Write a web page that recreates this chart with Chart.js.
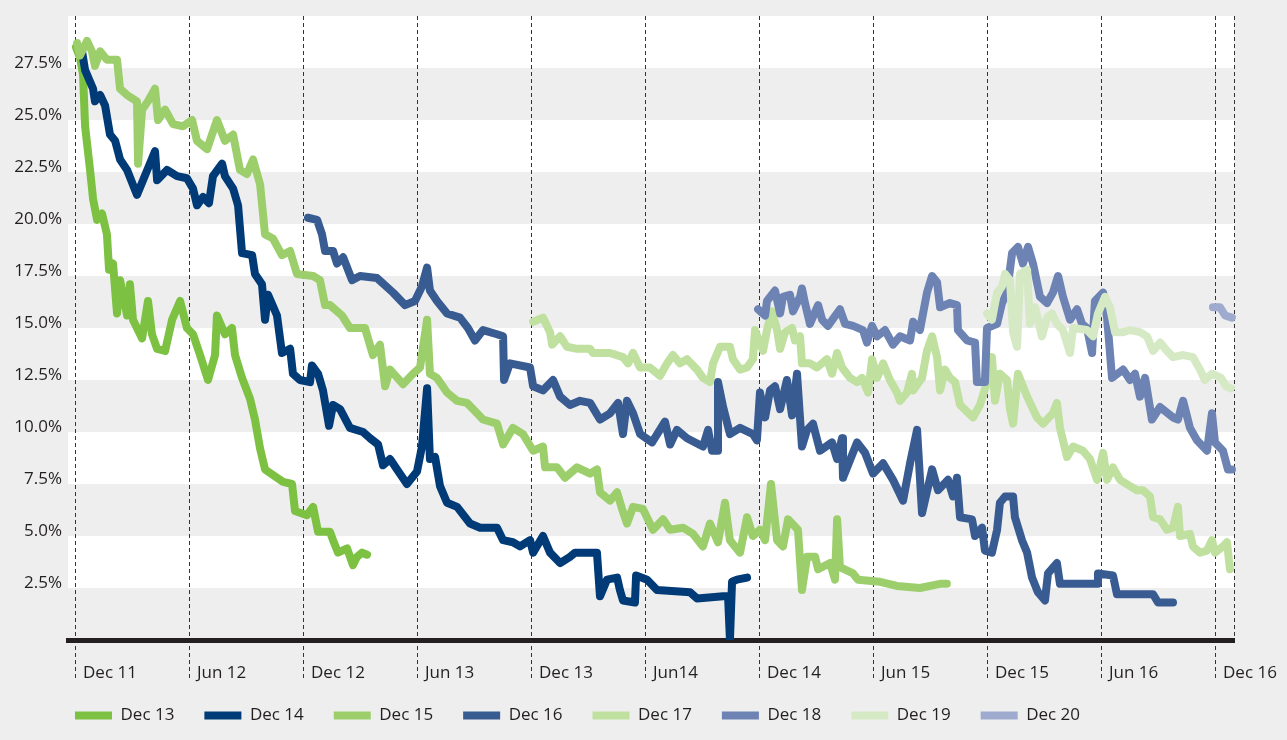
<!DOCTYPE html>
<html>
<head>
<meta charset="utf-8">
<script src="https://cdn.jsdelivr.net/npm/chart.js@4.4.1/dist/chart.umd.min.js"></script>
<style>
  html, body { margin: 0; padding: 0; background: #eeeeee; }
  #wrap { width: 1287px; height: 740px; }
</style>
</head>
<body>
<div id="wrap"><canvas id="curveChart" width="1287" height="740"></canvas></div>
<script>
// x = months since Dec 2011, y = yield in %
var dec13 = [[0.05,28.5],[0.26,28.0],[0.42,27.2],[0.53,24.7],[0.79,22.6],[0.95,21.2],[1.16,20.2],[1.42,20.5],[1.68,19.5],[1.79,17.8],[2.00,18.1],[2.21,15.7],[2.37,17.3],[2.74,15.6],[2.89,17.1],[3.05,15.4],[3.53,14.5],[3.84,16.3],[4.05,14.7],[4.32,14.0],[4.74,13.9],[5.11,15.4],[5.53,16.3],[5.89,15.0],[6.21,14.7],[6.58,13.7],[7.00,12.5],[7.37,13.7],[7.47,15.6],[7.89,14.7],[8.26,15.0],[8.42,13.7],[8.79,12.6],[9.21,11.6],[9.47,10.6],[9.74,9.2],[10.00,8.2],[10.63,7.8],[10.95,7.6],[11.42,7.5],[11.58,6.2],[12.21,6.0],[12.53,6.4],[12.79,5.2],[13.42,5.2],[13.58,4.8],[13.84,4.2],[14.32,4.4],[14.63,3.6],[14.84,4.0],[15.11,4.2],[15.37,4.1]];

var dec14 = [[0.37,28.3],[0.53,27.4],[0.95,26.5],[1.05,25.9],[1.32,26.2],[1.58,25.7],[1.84,24.3],[2.11,24.0],[2.37,23.1],[2.74,22.6],[3.26,21.4],[3.58,22.1],[4.21,23.5],[4.32,22.1],[4.84,22.6],[5.37,22.3],[5.89,22.2],[6.21,21.7],[6.42,20.9],[6.74,21.3],[7.05,21.0],[7.26,22.3],[7.74,22.9],[7.89,22.3],[8.32,21.7],[8.58,20.9],[8.79,18.6],[9.32,18.5],[9.47,17.6],[9.84,17.1],[10.00,15.4],[10.16,16.6],[10.63,15.6],[10.89,13.8],[11.32,14.0],[11.47,12.8],[11.84,12.5],[12.37,12.4],[12.47,13.2],[12.79,12.8],[13.05,12.0],[13.37,10.3],[13.58,11.3],[13.95,11.1],[14.47,10.2],[15.16,10.0],[15.53,9.7],[15.95,9.4],[16.21,8.4],[16.58,8.7],[16.95,8.2],[17.47,7.5],[18.00,8.1],[18.26,9.3],[18.53,12.1],[18.68,8.7],[18.95,8.8],[19.21,7.4],[19.58,6.6],[20.11,6.4],[20.79,5.6],[21.32,5.4],[22.21,5.4],[22.53,4.8],[23.05,4.7],[23.42,4.5],[23.95,4.8],[24.11,4.2],[24.63,5.0],[25.00,4.2],[25.53,3.7],[26.05,4.0],[26.32,4.2],[27.47,4.2],[27.63,2.1],[28.00,2.9],[28.53,3.0],[28.68,2.4],[28.84,1.9],[29.47,1.8],[29.53,3.1],[30.11,2.9],[30.63,2.4],[32.37,2.3],[32.74,2.0],[34.11,2.1],[34.37,2.1],[34.47,0],[34.58,2.8],[34.84,2.9],[35.37,3.0]];

var dec15 = [[0.11,28.7],[0.26,28.1],[0.63,28.8],[0.89,28.3],[1.05,27.6],[1.32,28.3],[1.68,27.9],[2.21,27.9],[2.37,26.5],[2.74,26.2],[3.26,25.9],[3.32,22.9],[3.53,25.5],[3.84,25.9],[4.21,26.5],[4.37,25.0],[4.74,25.5],[5.16,24.8],[5.68,24.7],[6.16,25.0],[6.42,24.0],[6.95,23.6],[7.47,25.0],[7.89,24.0],[8.32,24.3],[8.68,22.6],[9.05,22.4],[9.37,23.1],[9.74,21.9],[10.00,19.5],[10.42,19.3],[10.89,18.5],[11.32,18.7],[11.68,17.6],[12.53,17.5],[12.89,17.3],[13.16,16.1],[13.42,16.1],[14.05,15.6],[14.47,15.0],[15.26,15.0],[15.68,13.7],[16.05,14.2],[16.32,12.2],[16.58,13.0],[17.26,12.3],[17.79,12.8],[18.16,13.1],[18.53,15.4],[18.68,12.8],[19.05,12.6],[19.58,11.9],[20.11,11.5],[20.63,11.4],[21.16,10.9],[21.47,10.6],[22.21,10.4],[22.53,9.4],[23.05,10.2],[23.58,9.9],[24.11,9.1],[24.63,9.3],[24.74,8.3],[25.37,8.3],[25.79,7.8],[26.42,8.3],[27.11,8.0],[27.47,8.2],[27.63,7.1],[28.16,6.7],[28.53,7.1],[28.79,6.3],[29.05,5.6],[29.37,6.4],[29.89,6.3],[30.42,5.3],[30.95,5.8],[31.32,5.3],[32.00,5.4],[32.53,5.1],[33.05,4.5],[33.42,5.6],[33.84,4.7],[34.21,6.6],[34.47,4.8],[35.00,4.2],[35.37,5.9],[35.68,5.0],[36.05,5.3],[36.32,4.8],[36.63,7.5],[36.95,4.8],[37.26,4.5],[37.53,5.8],[38.05,5.3],[38.26,2.4],[38.53,4.0],[38.95,4.0],[39.11,3.4],[39.74,3.7],[40.00,2.9],[40.11,5.8],[40.26,3.5],[40.95,3.2],[41.21,2.9],[42.37,2.8],[43.26,2.6],[44.47,2.5],[45.53,2.7],[45.89,2.7]];

var dec16 = [[12.26,20.3],[12.74,20.2],[13.00,19.5],[13.16,18.7],[13.58,18.7],[13.79,18.1],[14.11,18.4],[14.58,17.3],[15.00,17.5],[15.89,17.4],[16.74,16.7],[17.37,16.1],[17.89,16.3],[18.26,17.0],[18.53,17.9],[18.68,16.8],[19.05,16.3],[19.58,15.7],[20.26,15.5],[20.68,15.0],[21.05,14.4],[21.47,14.9],[22.21,14.7],[22.53,14.6],[22.58,12.5],[22.89,13.3],[23.95,13.1],[24.11,12.2],[24.63,12.0],[25.16,12.5],[25.53,11.7],[26.05,11.3],[26.58,11.5],[27.11,11.4],[27.63,10.6],[28.16,10.9],[28.58,11.4],[28.84,9.9],[29.05,11.5],[29.37,10.9],[29.74,9.9],[30.37,9.5],[31.05,10.5],[31.32,9.4],[31.68,10.1],[32.21,9.7],[33.05,9.3],[33.32,10.1],[33.53,9.1],[33.79,9.1],[33.84,12.4],[34.11,11.2],[34.47,9.9],[35.00,10.2],[35.68,9.9],[35.89,9.6],[36.05,11.9],[36.32,10.7],[36.58,12.0],[36.84,12.2],[37.11,11.1],[37.47,12.5],[37.74,10.8],[38.00,12.8],[38.26,9.3],[38.53,10.1],[38.84,10.4],[39.21,9.1],[39.84,9.5],[40.11,8.7],[40.37,9.7],[40.42,7.8],[41.16,9.5],[41.58,9.0],[42.00,8.0],[42.53,8.5],[43.05,7.7],[43.58,6.7],[43.95,8.5],[44.32,10.1],[44.58,6.1],[45.11,8.2],[45.42,7.2],[45.95,7.7],[46.21,6.9],[46.42,7.8],[46.58,5.9],[47.21,5.8],[47.37,5.0],[47.74,5.4],[47.89,4.3],[48.26,4.2],[48.53,5.3],[48.68,6.6],[48.95,6.9],[49.37,6.9],[49.47,5.9],[49.84,4.8],[50.11,4.2],[50.37,3.0],[50.68,2.3],[51.05,1.9],[51.21,3.2],[51.68,3.7],[51.84,2.7],[52.89,2.7],[53.79,2.7],[53.84,3.2],[54.63,3.1],[54.84,2.2],[55.89,2.2],[56.74,2.2],[57.00,1.8],[57.79,1.8]];

var dec17 = [[24.11,15.3],[24.63,15.5],[25.00,14.8],[25.11,14.2],[25.53,14.6],[25.89,14.1],[26.42,14.0],[27.11,14.0],[27.26,13.8],[28.16,13.8],[28.84,13.6],[29.11,13.3],[29.37,13.8],[29.74,13.1],[30.26,13.1],[30.79,12.7],[31.16,13.3],[31.47,13.7],[31.84,13.3],[32.21,13.5],[32.74,13.0],[33.05,12.6],[33.42,12.4],[33.58,13.3],[33.95,14.1],[34.47,14.1],[34.63,13.5],[35.00,13.0],[35.37,13.1],[35.68,13.5],[35.79,14.9],[36.21,13.9],[36.42,14.9],[36.68,15.8],[36.95,14.9],[37.11,14.0],[37.37,14.8],[37.74,15.0],[37.89,14.4],[38.16,14.6],[38.26,13.3],[38.68,13.3],[39.05,13.1],[39.58,13.5],[39.84,12.8],[40.11,13.8],[40.37,13.1],[40.79,12.6],[41.16,12.4],[41.42,12.6],[41.74,11.9],[41.95,13.5],[42.21,12.6],[42.53,13.3],[42.89,12.5],[43.26,11.9],[43.42,11.5],[43.79,11.9],[44.05,12.8],[44.11,12.0],[44.58,12.6],[44.84,13.9],[45.11,14.6],[45.37,13.6],[45.53,12.0],[45.79,13.0],[46.05,12.6],[46.32,12.4],[46.58,11.3],[47.26,10.7],[47.63,11.3],[48.00,12.4],[48.26,13.6],[48.42,11.5],[48.68,12.8],[49.05,12.5],[49.21,11.1],[49.37,10.4],[49.63,12.8],[50.11,11.7],[50.63,10.7],[50.95,10.4],[51.47,10.9],[51.68,11.4],[51.84,10.2],[52.21,8.8],[52.53,9.3],[53.05,9.1],[53.42,8.7],[53.79,7.7],[54.11,9.0],[54.32,7.7],[54.63,8.3],[55.00,7.7],[55.53,7.4],[55.89,7.2],[56.21,7.2],[56.58,6.9],[56.74,5.9],[57.11,5.8],[57.47,5.3],[57.79,5.4],[58.05,6.4],[58.16,5.0],[58.68,5.1],[58.84,4.5],[59.21,4.2],[59.58,4.3],[59.84,4.8],[60.00,4.2],[60.42,4.5],[60.63,4.7],[60.79,3.4]];

var dec18 = [[35.95,15.9],[36.32,15.6],[36.42,16.3],[36.84,16.8],[37.11,15.7],[37.26,16.5],[37.63,16.6],[37.79,15.8],[38.16,16.5],[38.26,16.9],[38.42,16.2],[38.68,15.2],[39.11,16.1],[39.32,15.4],[39.63,15.1],[40.26,15.9],[40.53,15.2],[40.95,15.1],[41.47,14.9],[41.68,14.3],[41.95,15.1],[42.21,14.6],[42.63,14.9],[43.05,14.2],[43.42,14.6],[43.95,14.4],[44.11,15.3],[44.47,14.9],[44.84,16.7],[45.11,17.5],[45.37,17.2],[45.53,16.0],[46.05,16.2],[46.42,16.1],[46.47,14.9],[46.95,14.4],[47.37,14.3],[47.47,12.4],[47.89,12.4],[48.00,15.0],[48.53,15.2],[48.79,16.2],[49.05,16.7],[49.32,18.6],[49.63,18.9],[49.89,18.1],[50.16,18.9],[50.42,18.1],[50.79,16.5],[51.16,16.2],[51.47,16.7],[51.74,17.5],[52.00,16.5],[52.37,15.4],[52.74,15.9],[53.00,15.2],[53.26,15.0],[53.53,13.8],[53.68,16.3],[54.11,16.7],[54.32,15.5],[54.58,12.6],[55.16,13.0],[55.53,12.5],[55.79,12.8],[56.05,11.7],[56.32,12.6],[56.68,10.6],[57.11,11.2],[57.79,10.7],[58.05,10.6],[58.32,11.5],[58.68,10.2],[59.05,9.6],[59.58,9.1],[59.84,10.9],[60.00,9.5],[60.42,9.1],[60.68,8.2],[60.89,8.2]];

var dec19 = [[48.00,15.7],[48.26,15.4],[48.53,16.7],[48.79,17.0],[48.95,17.6],[49.21,17.3],[49.37,14.8],[49.58,14.1],[49.74,17.6],[50.11,17.8],[50.26,15.2],[50.53,16.0],[50.89,14.6],[51.16,15.5],[51.42,15.7],[51.68,15.2],[52.00,14.9],[52.37,13.8],[52.53,15.0],[53.26,14.9],[53.58,14.6],[53.84,15.7],[54.21,16.5],[54.47,16.0],[54.74,14.8],[55.16,14.8],[55.53,14.9],[56.05,14.8],[56.42,14.6],[56.74,13.9],[57.11,14.3],[57.47,13.9],[57.79,13.6],[58.32,13.7],[58.84,13.6],[59.21,13.0],[59.47,12.5],[59.84,12.8],[60.32,12.6],[60.58,12.2],[60.84,12.1]];

var dec20 = [[59.89,16.0],[60.26,16.0],[60.53,15.6],[60.89,15.5]];

var seriesNames = ['Dec 13', 'Dec 14', 'Dec 15', 'Dec 16', 'Dec 17', 'Dec 18', 'Dec 19', 'Dec 20'];
var seriesColors = ['#7cc142', '#003b78', '#9ccf6c', '#385b92', '#bfe09f', '#6c83b3', '#d5eac4', '#9eabcf'];
var xTickValues = [0, 6, 12, 18, 24, 30, 36, 42, 48, 54, 60, 61];
var xTickLabels = ['Dec 11', 'Jun 12', 'Dec 12', 'Jun 13', 'Dec 13', 'Jun14', 'Dec 14', 'Jun 15', 'Dec 15', 'Jun 16', 'Dec 16'];
var yTickValues = [2.5, 5, 7.5, 10, 12.5, 15, 17.5, 20, 22.5, 25, 27.5];

var allSeries = [dec13, dec14, dec15, dec16, dec17, dec18, dec19, dec20];

// grey / white bands and dashed half-year lines behind everything else
var bandsPlugin = {
  id: 'bands',
  afterLayout: function(chart) {
    chart.legend.left = 45;
    chart.scales.x.bottom = chart.height;
  },
  beforeDraw: function(chart) {
    var ctx = chart.ctx, area = chart.chartArea, y = chart.scales.y, x = chart.scales.x;
    ctx.save();
    ctx.fillStyle = '#eeeeee';
    ctx.fillRect(0, 0, chart.width, chart.height);
    ctx.fillStyle = '#ffffff';
    for (var v = 2.5; v < 30; v += 5) {
      var top = y.getPixelForValue(v + 2.5), bottom = y.getPixelForValue(v);
      ctx.fillRect(area.left, top, area.right - area.left, bottom - top);
    }
    ctx.strokeStyle = '#333333';
    ctx.lineWidth = 1;
    ctx.setLineDash([4, 3]);
    x.ticks.forEach(function(t) {
      var px = Math.round(x.getPixelForValue(t.value)) + 0.5;
      var end = t.value > 60 ? area.bottom + 5 : area.bottom + 40;
      ctx.beginPath();
      ctx.moveTo(px, area.top);
      ctx.lineTo(px, end);
      ctx.stroke();
    });
    ctx.restore();
  }
};

Chart.defaults.font.family = "'Open Sans', sans-serif";
Chart.defaults.font.size = 17;
Chart.defaults.color = '#231f20';

var curveChartctx = document.getElementById('curveChart').getContext('2d');
var curveChart = new Chart(curveChartctx, {
  type: 'line',
  data: {
    datasets: allSeries.map(function(s, i) {
      return {
        label: seriesNames[i],
        data: s.map(function(p) { return {x: p[0], y: p[1]}; }),
        borderColor: seriesColors[i],
        backgroundColor: seriesColors[i],
        borderWidth: 8,
        borderJoinStyle: 'round',
        borderCapStyle: 'round',
        pointRadius: 0,
        tension: 0,
        fill: false,
        order: -i,
        clip: {left: 10, top: 10, right: 4, bottom: 0}
      };
    })
  },
  options: {
    responsive: false,
    animation: false,
    devicePixelRatio: 1,
    layout: {
      padding: {left: 0, right: 53, top: 16, bottom: 6}
    },
    plugins: {
      tooltip: {enabled: false},
      legend: {
        position: 'bottom',
        align: 'start',
        labels: {
          boxWidth: 37,
          boxHeight: 8,
          padding: 30,
          color: '#231f20',
          font: {size: 17},
          generateLabels: function(chart) {
            var items = Chart.defaults.plugins.legend.labels.generateLabels(chart);
            items.forEach(function(it) { it.lineWidth = 0; it.strokeStyle = 'rgba(0,0,0,0)'; });
            items.sort(function(a, b) { return a.datasetIndex - b.datasetIndex; });
            return items;
          }
        }
      }
    },
    scales: {
      x: {
        type: 'linear',
        min: -0.37,
        max: 61,
        afterBuildTicks: function(scale) {
          scale.ticks = xTickValues.map(function(v) { return {value: v}; });
        },
        afterFit: function(scale) {
          scale.height = 37;
          scale.paddingLeft = 0;
          scale.paddingRight = 0;
        },
        border: {display: true, color: '#231f20', width: 5},
        grid: {
          color: 'rgba(0,0,0,0)',
          tickColor: 'rgba(0,0,0,0)',
          tickLength: 40
        },
        ticks: {
          align: 'start',
          labelOffset: 8,
          padding: -17,
          maxRotation: 0,
          autoSkip: false,
          color: '#231f20',
          callback: function(v, i) { return xTickLabels[i] || ''; }
        }
      },
      y: {
        min: 0,
        max: 30,
        afterBuildTicks: function(scale) {
          scale.ticks = yTickValues.map(function(v) { return {value: v}; });
        },
        afterFit: function(scale) {
          scale.width = 68;
          scale.paddingTop = 0;
          scale.paddingBottom = 0;
        },
        grid: {display: false, drawTicks: false, drawOnChartArea: false},
        border: {display: false, width: 0},
        ticks: {
          padding: 6,
          labelOffset: -5,
          color: '#231f20',
          callback: function(v) { return v.toFixed(1) + '%'; }
        }
      }
    }
  },
  plugins: [bandsPlugin]
});
</script>
</body>
</html>
